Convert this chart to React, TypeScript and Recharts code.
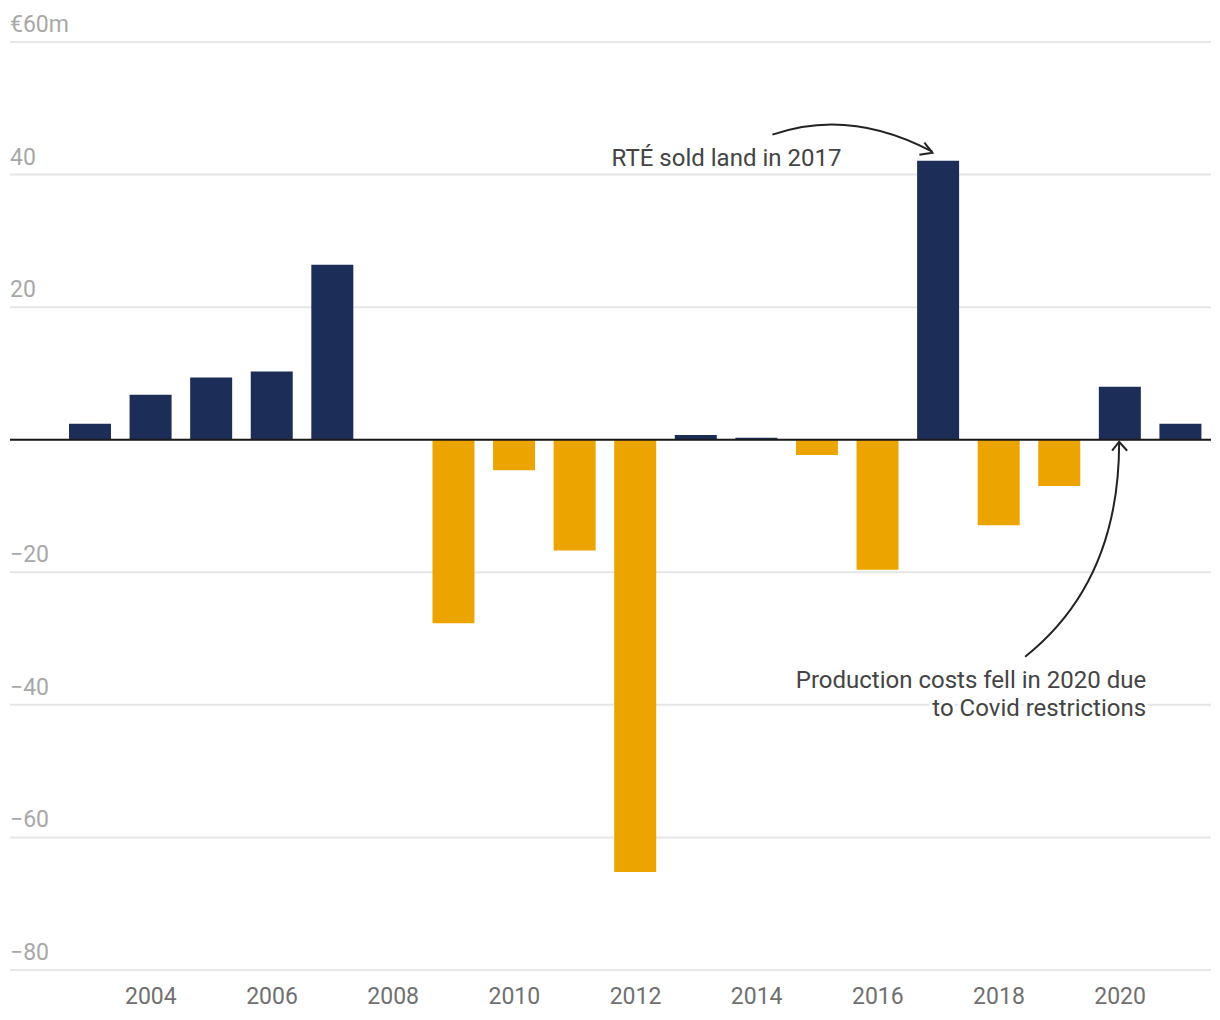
import { BarChart, Bar, XAxis, YAxis, CartesianGrid, ReferenceLine, ReferenceDot, Cell } from 'recharts';

const years = ['2003', '2004', '2005', '2006', '2007', '2008', '2009', '2010', '2011', '2012', '2013', '2014', '2015', '2016', '2017', '2018', '2019', '2020', '2021'];
const surplus = [2.4, 6.8, 9.4, 10.3, 26.4, 0, -27.7, -4.6, -16.7, -65.2, 0.7, 0.3, -2.3, -19.6, 42.1, -12.9, -7.0, 8.0, 2.4];
const yTicks = [-80, -60, -40, -20, 0, 20, 40, 60];
const xTickYears = ['2004', '2006', '2008', '2010', '2012', '2014', '2016', '2018', '2020'];

const data = years.map((year, i) => ({ year, value: surplus[i] }));

const NAVY = '#1c2e57';
const GOLD = '#eca500';
const FONT = 'Roboto, "Noto Sans", sans-serif';

function yLabel(v: number) {
  if (v === 60) return '€60m';
  if (v === 0) return '';
  if (v < 0) return '\u2212' + Math.abs(v);
  return String(v);
}

function YTick(props: any) {
  const { y, payload } = props;
  return (
    <text x={10} y={y - 10} textAnchor="start" fill="#a8a8a8" fontSize={23} fontFamily={FONT}>
      {yLabel(payload.value)}
    </text>
  );
}

function XTick(props: any) {
  const { x, y, payload } = props;
  if (!xTickYears.includes(String(payload.value))) return null;
  return (
    <text x={x} y={y + 32} textAnchor="middle" fill="#707070" fontSize={23} fontFamily={FONT}>
      {payload.value}
    </text>
  );
}

function LandNote(props: any) {
  const { cx, cy } = props;
  if (cx == null || cy == null) return null;
  return (
    <g>
      <text x={cx - 97} y={cy + 5} textAnchor="end" fill="#444" fontSize={24} fontFamily={FONT}>
        RTÉ sold land in 2017
      </text>
      <path d={`M${cx - 166},${cy - 26} Q${cx - 89},${cy - 53} ${cx - 6},${cy - 9}`} fill="none" stroke="#222" strokeWidth={2} />
      <path d={`M${cx - 14},${cy - 18} L${cx - 6},${cy - 8} L${cx - 19},${cy - 6}`} fill="none" stroke="#222" strokeWidth={2} />
    </g>
  );
}

function CovidNote(props: any) {
  const { cx, cy } = props;
  if (cx == null || cy == null) return null;
  const tx = cx + 26;
  return (
    <g>
      <path d={`M${cx - 95},${cy + 217} C${cx - 36},${cy + 170} ${cx - 1},${cy + 100} ${cx - 1},${cy + 3}`} fill="none" stroke="#222" strokeWidth={2} />
      <path d={`M${cx - 8},${cy + 11} L${cx - 1},${cy + 2} L${cx + 7},${cy + 11}`} fill="none" stroke="#222" strokeWidth={2} />
      <text textAnchor="end" fill="#444" fontSize={24} fontFamily={FONT} stroke="#fff" strokeWidth={6} paintOrder="stroke" strokeLinejoin="round">
        <tspan x={tx} y={cy + 248}>Production costs fell in 2020 due</tspan>
        <tspan x={tx} y={cy + 276}>to Covid restrictions</tspan>
      </text>
    </g>
  );
}

export default function App() {
  return (
    <div style={{ position: 'absolute', left: 0, top: 0, width: 1220, height: 1020, background: '#fff' }}>
      <BarChart width={1220} height={1020} data={data} margin={{ top: 42, right: 9, bottom: 0, left: 10 }} barSize={42}>
        <CartesianGrid vertical={false} stroke="#e6e6e6" strokeWidth={2} />
        <XAxis
          dataKey="year"
          height={50}
          axisLine={false}
          tickLine={false}
          tickSize={0}
          interval={0}
          padding={{ left: 50, right: 0 }}
          tick={<XTick />}
        />
        <YAxis
          mirror
          width={60}
          domain={[-80, 60]}
          ticks={yTicks}
          axisLine={false}
          tickLine={false}
          tick={<YTick />}
          interval={0}
        />
        <Bar dataKey="value" isAnimationActive={false}>
          {data.map((d) => (
            <Cell key={d.year} fill={d.value >= 0 ? NAVY : GOLD} />
          ))}
        </Bar>
        <ReferenceLine y={0} stroke="#1a1a1a" strokeWidth={2} />
        <ReferenceDot x="2017" y={42.1} r={0} shape={(p: any) => <LandNote {...p} />} />
        <ReferenceDot x="2020" y={0} r={0} shape={(p: any) => <CovidNote {...p} />} />
      </BarChart>
    </div>
  );
}
